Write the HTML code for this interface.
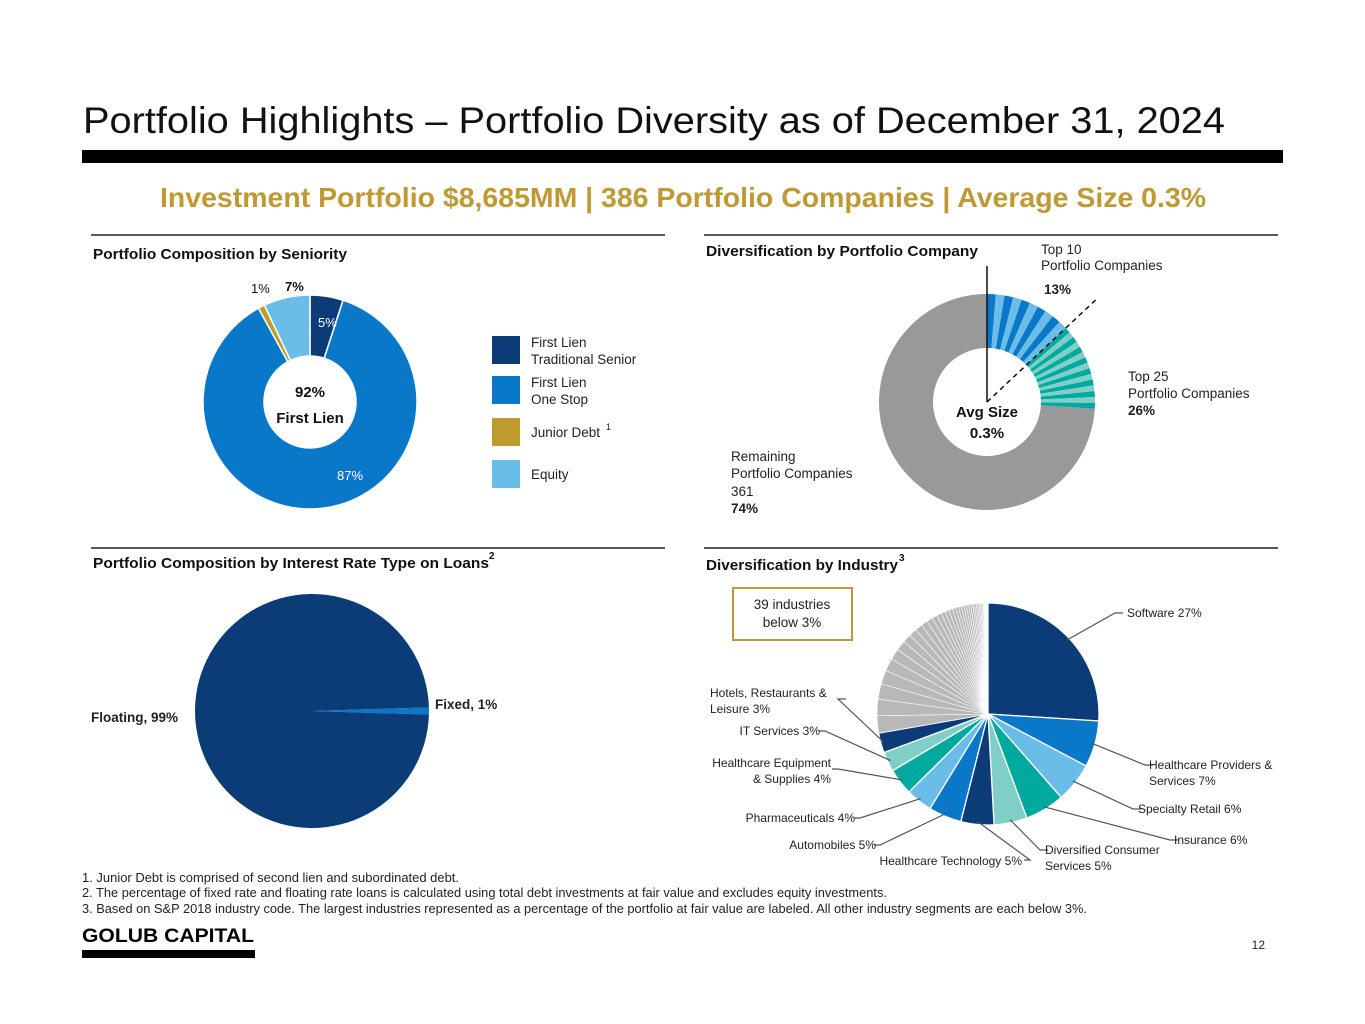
<!DOCTYPE html>
<html><head><meta charset="utf-8"><style>
body{margin:0;background:#fff}
svg{display:block;font-family:"Liberation Sans",sans-serif}
</style></head><body>
<svg id="s" width="1365" height="1024" viewBox="0 0 1365 1024">
<text x="83" y="133" font-size="37" fill="#111" textLength="1142" lengthAdjust="spacingAndGlyphs">Portfolio Highlights – Portfolio Diversity as of December 31, 2024</text>
<rect x="82" y="150" width="1201" height="13" fill="#000"/>
<text x="160" y="207" font-size="28" font-weight="bold" fill="#bf9a34" textLength="1046" lengthAdjust="spacingAndGlyphs">Investment Portfolio $8,685MM |  386 Portfolio Companies | Average Size 0.3%</text>

<line x1="91" y1="235" x2="665" y2="235" stroke="#222" stroke-width="1.5"/>
<line x1="704" y1="235" x2="1278" y2="235" stroke="#222" stroke-width="1.5"/>
<line x1="91" y1="548" x2="665" y2="548" stroke="#222" stroke-width="1.5"/>
<line x1="704" y1="548" x2="1278" y2="548" stroke="#222" stroke-width="1.5"/>

<text x="93" y="259" font-size="15" font-weight="bold" fill="#111" textLength="254" lengthAdjust="spacingAndGlyphs">Portfolio Composition by Seniority</text>
<text x="706" y="256" font-size="15" font-weight="bold" fill="#111" textLength="272" lengthAdjust="spacingAndGlyphs">Diversification by Portfolio Company</text>
<text x="93" y="568" font-size="15" font-weight="bold" fill="#111" textLength="396" lengthAdjust="spacingAndGlyphs">Portfolio Composition by Interest Rate Type on Loans</text>
<text x="489" y="559" font-size="10" font-weight="bold" fill="#111">2</text>
<text x="706" y="570" font-size="15" font-weight="bold" fill="#111" textLength="192" lengthAdjust="spacingAndGlyphs">Diversification by Industry</text>
<text x="899" y="561" font-size="10" font-weight="bold" fill="#111">3</text>

<g id="sen"></g>
<text x="310" y="397" font-size="15" font-weight="bold" text-anchor="middle" fill="#111">92%</text>
<text x="310" y="423" font-size="15" font-weight="bold" text-anchor="middle" fill="#111">First Lien</text>
<text x="318" y="327" font-size="13" fill="#fff">5%</text>
<text x="337" y="480" font-size="13" fill="#fff">87%</text>
<text x="251" y="293" font-size="13" fill="#111">1%</text>
<text x="285" y="291" font-size="13" font-weight="bold" fill="#111">7%</text>

<g>
<rect x="492" y="336" width="28" height="28" fill="#0c3c78"/>
<text x="531" y="347" font-size="13.5" fill="#222">First Lien</text>
<text x="531" y="364" font-size="13.5" fill="#222">Traditional Senior</text>
<rect x="492" y="376" width="28" height="28" fill="#0a78c8"/>
<text x="531" y="387" font-size="13.5" fill="#222">First Lien</text>
<text x="531" y="404" font-size="13.5" fill="#222">One Stop</text>
<rect x="492" y="418" width="28" height="28" fill="#bf9a2c"/>
<text x="531" y="437" font-size="13.5" fill="#222">Junior Debt</text>
<text x="606" y="430" font-size="9" fill="#222">1</text>
<rect x="492" y="460" width="28" height="28" fill="#6bbde9"/>
<text x="531" y="479" font-size="13.5" fill="#222">Equity</text>
</g>

<g id="comp"></g>
<text x="987" y="417" font-size="15" font-weight="bold" text-anchor="middle" fill="#111">Avg Size</text>
<text x="987" y="438" font-size="15" font-weight="bold" text-anchor="middle" fill="#111">0.3%</text>
<text x="1041" y="254" font-size="13.5" fill="#222">Top 10</text>
<text x="1041" y="270" font-size="13.5" fill="#222">Portfolio Companies</text>
<text x="1044" y="294" font-size="13.5" font-weight="bold" fill="#222">13%</text>
<text x="1128" y="381" font-size="13.5" fill="#222">Top 25</text>
<text x="1128" y="398" font-size="13.5" fill="#222">Portfolio Companies</text>
<text x="1128" y="415" font-size="13.5" font-weight="bold" fill="#222">26%</text>
<text x="731" y="461" font-size="13.5" fill="#222">Remaining</text>
<text x="731" y="478" font-size="13.5" fill="#222">Portfolio Companies</text>
<text x="731" y="496" font-size="13.5" fill="#222">361</text>
<text x="731" y="513" font-size="13.5" font-weight="bold" fill="#222">74%</text>

<g id="rate"></g>
<text x="91" y="722" font-size="13.5" font-weight="bold" fill="#222">Floating, 99%</text>
<text x="435" y="709" font-size="13.5" font-weight="bold" fill="#222">Fixed, 1%</text>

<g id="ind"></g>
<rect x="733" y="588" width="119" height="52" fill="#fff" stroke="#bf9a34" stroke-width="2"/>
<text x="792" y="609" font-size="13.5" text-anchor="middle" fill="#222">39 industries</text>
<text x="792" y="627" font-size="13.5" text-anchor="middle" fill="#222">below 3%</text>

<g font-size="12.5" fill="#222">
<text x="82" y="882" textLength="377" lengthAdjust="spacingAndGlyphs">1.  Junior Debt is comprised of second lien and subordinated debt.</text>
<text x="82" y="897" textLength="805" lengthAdjust="spacingAndGlyphs">2.  The percentage of fixed rate and floating rate loans is calculated using total debt investments at fair value and excludes equity investments.</text>
<text x="82" y="913" textLength="1005" lengthAdjust="spacingAndGlyphs">3.  Based on S&amp;P 2018 industry code. The largest industries represented as a percentage of the portfolio at fair value are labeled. All other industry segments are each below 3%.</text>
</g>
<text x="82" y="942" font-size="19" font-weight="bold" fill="#000" textLength="172" lengthAdjust="spacingAndGlyphs">GOLUB CAPITAL</text>
<rect x="82" y="950" width="173" height="8" fill="#000"/>
<text x="1265" y="949" font-size="12" text-anchor="end" fill="#222">12</text>
</svg>
<script>
// Seniority
const senCats=['First Lien Traditional Senior','First Lien One Stop','Junior Debt','Equity'];
const senVals=[5,87,1,7];
const senColors=['#0c3c78','#0a78c8','#bf9a2c','#6bbde9'];
// Company
const compGroups=['Top 10','Top 11-25','Remaining'];
const compVals=[13,13,74];
const compCounts=[10,15,1];
// Rate
const rateCats=['Fixed','Floating'];
const rateVals=[1,99];
// Industry
const indCats=['Software','Healthcare Providers & Services','Specialty Retail','Insurance','Diversified Consumer Services','Healthcare Technology','Automobiles','Pharmaceuticals','Healthcare Equipment & Supplies','IT Services','Hotels, Restaurants & Leisure'];
const indVals=[27,7,6,6,5,5,5,4,4,3,3];
const otherVals=[2.6,2.5,2.3,2.1,1.9,1.7,1.5,1.3,1.2,1.1,1.0,0.9,0.8,0.7,0.65,0.6,0.55,0.5,0.45,0.42,0.4,0.37,0.35,0.32,0.3,0.28,0.26,0.24,0.22,0.2,0.18,0.16,0.14,0.12,0.1,0.1,0.1,0.1,0.1];

const NS='http://www.w3.org/2000/svg';
function pt(cx,cy,r,a){return [cx+r*Math.sin(a),cy-r*Math.cos(a)];}
function arc(cx,cy,r0,r1,a0,a1){
  const lg=(a1-a0)>Math.PI?1:0;
  const [x0,y0]=pt(cx,cy,r1,a0),[x1,y1]=pt(cx,cy,r1,a1);
  if(r0<=0)return `M${cx},${cy}L${x0},${y0}A${r1},${r1} 0 ${lg} 1 ${x1},${y1}Z`;
  const [x2,y2]=pt(cx,cy,r0,a1),[x3,y3]=pt(cx,cy,r0,a0);
  return `M${x0},${y0}A${r1},${r1} 0 ${lg} 1 ${x1},${y1}L${x2},${y2}A${r0},${r0} 0 ${lg} 0 ${x3},${y3}Z`;
}
function slice(g,d,fill,stroke,sw){const p=document.createElementNS(NS,'path');p.setAttribute('d',d);p.setAttribute('fill',fill);if(stroke){p.setAttribute('stroke',stroke);p.setAttribute('stroke-width',sw);}


g.appendChild(p);return p;}
function ang(v,tot){return v/tot*2*Math.PI;}

(function(){const g=document.getElementById('sen');const tot=senVals.reduce((a,b)=>a+b,0);let a=0;
senVals.forEach((v,i)=>{const b=a+ang(v,tot);slice(g,arc(310,402,46,107,a,b),senColors[i],'#fff',1.5);a=b;});})();

(function(){const g=document.getElementById('comp');const tot=compVals.reduce((a,b)=>a+b,0);let a=0;
const cols=[['#0a78c8','#6bbde9'],['#00a99d','#7fcfc8'],['#999999','#999999']];
compVals.forEach((v,i)=>{const n=compCounts[i];const w=ang(v,tot)/n;for(let k=0;k<n;k++){slice(g,arc(987,402,54,108,a,a+w),cols[i][k%2]);a+=w;}});
const ln=document.createElementNS(NS,'line');ln.setAttribute('x1',987);ln.setAttribute('y1',402);ln.setAttribute('x2',987);ln.setAttribute('y2',266);ln.setAttribute('stroke','#111');ln.setAttribute('stroke-width',1.5);


g.appendChild(ln);
const a13=ang(compVals[0],tot);const [x,y]=pt(987,402,150,a13);
const d=document.createElementNS(NS,'line');d.setAttribute('x1',987);d.setAttribute('y1',402);d.setAttribute('x2',x);d.setAttribute('y2',y);d.setAttribute('stroke','#111');d.setAttribute('stroke-width',1.5);d.setAttribute('stroke-dasharray','5,4');


g.appendChild(d);})();

(function(){const g=document.getElementById('rate');const tot=rateVals.reduce((a,b)=>a+b,0);const w=ang(rateVals[0],tot);
const a0=Math.PI/2-w/2;slice(g,arc(312,711,0,117,a0,a0+w),'#0a78c8');slice(g,arc(312,711,0,117,a0+w,a0+2*Math.PI-0.0001),'#0c3c78');})();

(function(){const g=document.getElementById('ind');const all=indVals.concat(otherVals);const tot=all.reduce((a,b)=>a+b,0);
const cols=['#0c3c78','#0a78c8','#6bbde9','#00a99d','#7fcfc8','#0c3c78','#0a78c8','#6bbde9','#00a99d','#7fcfc8','#0c3c78'];
const cx=988,cy=714,R=111;
const labels=[[['Software 27%'],1127,617,'start',[1115,613]],
[['Healthcare Providers &','Services 7%'],1149,769,'start',[1145,765]],
[['Specialty Retail 6%'],1138,813,'start',[1133,809]],
[['Insurance 6%'],1174,844,'start',[1170,840]],
[['Diversified Consumer','Services 5%'],1045,854,'start',[1040,850]],
[['Healthcare Technology 5%'],1022,865,'end',[1030,860]],
[['Automobiles 5%'],876,849,'end',[880,845]],
[['Pharmaceuticals 4%'],855,822,'end',[860,818]],
[['Healthcare Equipment','& Supplies 4%'],831,767,'end',[838,769]],
[['IT Services 3%'],820,735,'end',[825,731]],
[['Hotels, Restaurants &','Leisure 3%'],710,697,'start',[838,699]]];
let a=0;
all.forEach((v,i)=>{const b=a+ang(v,tot);let fill=i<cols.length?cols[i]:(i>=all.length-6?'#e6e6e6':'#b8b8b8');
slice(g,arc(cx,cy,0,R,a,b),fill,'#fff',i<cols.length?1.3:0.6);
if(i<labels.length){const L=labels[i];const m=(a+b)/2;const [px,py]=pt(cx,cy,R-3,m);const [ex,ey]=L[4];
const pl=document.createElementNS(NS,'polyline');
pl.setAttribute('points',`${px},${py} ${ex},${ey} ${L[3]==='start'?ex+8:ex-6},${ey}`);pl.setAttribute('fill','none');pl.setAttribute('stroke','#555');pl.setAttribute('stroke-width',1.2);


g.appendChild(pl);
L[0].forEach((s,k)=>{const t=document.createElementNS(NS,'text');t.setAttribute('x',L[1]);t.setAttribute('y',L[2]+k*16);t.setAttribute('font-size','12');t.setAttribute('fill','#222');t.setAttribute('text-anchor',L[3]);t.textContent=s;


g.appendChild(t);});}
a=b;});})();
</script>
</body></html>
